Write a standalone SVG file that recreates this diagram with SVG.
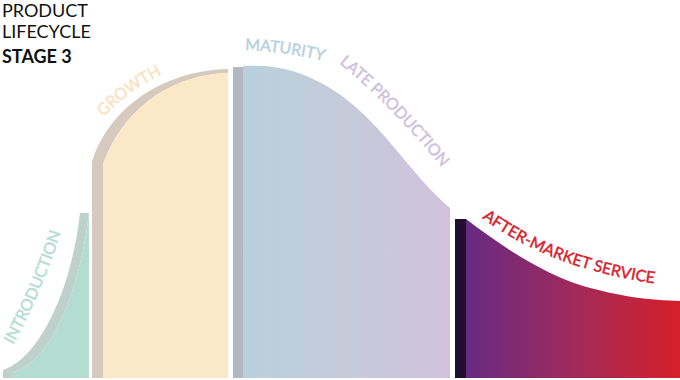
<svg xmlns="http://www.w3.org/2000/svg" width="680" height="380" viewBox="0 0 680 380">
<style>
.lbl{font-family:Lato,"Open Sans","Liberation Sans",sans-serif;font-size:16px;stroke-width:0.45px;}
.ttl{font-family:Lato,"Open Sans","Liberation Sans",sans-serif;font-size:18px;fill:#111;}
</style>
<defs>
<linearGradient id="gMat" x1="243" y1="0" x2="450" y2="0" gradientUnits="userSpaceOnUse">
<stop offset="0" stop-color="#b9d0dc"/><stop offset="0.5" stop-color="#c5cbd9"/><stop offset="1" stop-color="#d1c1dc"/>
</linearGradient>
<linearGradient id="gAft" x1="466" y1="0" x2="680" y2="0" gradientUnits="userSpaceOnUse">
<stop offset="0" stop-color="#672a83"/><stop offset="0.5" stop-color="#a02a5b"/><stop offset="1" stop-color="#d61f28"/>
</linearGradient>
<path id="pIntro" d="M13,345 Q43,290 62,229"/>
<path id="pGrowth" d="M104,117 Q130,88 175,68"/>
<path id="pMat" d="M245,50 Q285,51 332,63"/>
<path id="pLate" d="M339,63 Q398,112 447,174"/>
<path id="pAft" d="M482,218 Q555,272 668,285"/>
</defs>
<g id="title">
<text class="ttl" x="2" y="17">PRODUCT</text>
<text class="ttl" x="2" y="38">LIFECYCLE</text>
<text class="ttl" x="2" y="63" font-weight="bold">STAGE 3</text>
</g>
<g id="introduction">
<path d="M3,370 C35,360 70,300 80,213 L89,213 C78,305 45,365 13,372 L13,378 L3,378 Z" fill="#bed2cb"/>
<path d="M13,372 C45,365 78,305 89,213 L89,378 L13,378 Z" fill="#b4ddd1"/>
<text class="lbl" fill="#b5ddd2" stroke="#b5ddd2"><textPath href="#pIntro">INTRODUCTION</textPath></text>
</g>
<g id="growth">
<path d="M92,162 C108,110 160,71 228,69 L228,73 C165,75 120,115 103,165 L103,378 L92,378 Z" fill="#d6c9bd"/>
<path d="M103,165 C120,115 165,75 228,73 L228,378 L103,378 Z" fill="#fbe8c6"/>
<text class="lbl" fill="#fbe3c0" stroke="#fbe3c0"><textPath href="#pGrowth">GROWTH</textPath></text>
</g>
<g id="maturity">
<rect x="233" y="67" width="10" height="311" fill="#b3b7c0"/>
<path d="M243,66 C275,64 300,70 330,88 C380,118 410,175 450,208 L450,378 L243,378 Z" fill="url(#gMat)"/>
<text class="lbl" fill="#b6d1df" stroke="#b6d1df"><textPath href="#pMat">MATURITY</textPath></text>
<text class="lbl" fill="#cfc1dd" stroke="#cfc1dd"><textPath href="#pLate">LATE PRODUCTION</textPath></text>
</g>
<g id="after-market">
<rect x="455" y="219" width="11" height="159" fill="#1f0f2e"/>
<path d="M466,219 C500,245 540,272 580,285 C620,297 650,300 680,301 L680,378 L466,378 Z" fill="url(#gAft)"/>
<text class="lbl" fill="#d7232f" stroke="#d7232f"><textPath href="#pAft">AFTER-MARKET SERVICE</textPath></text>
</g>
</svg>
